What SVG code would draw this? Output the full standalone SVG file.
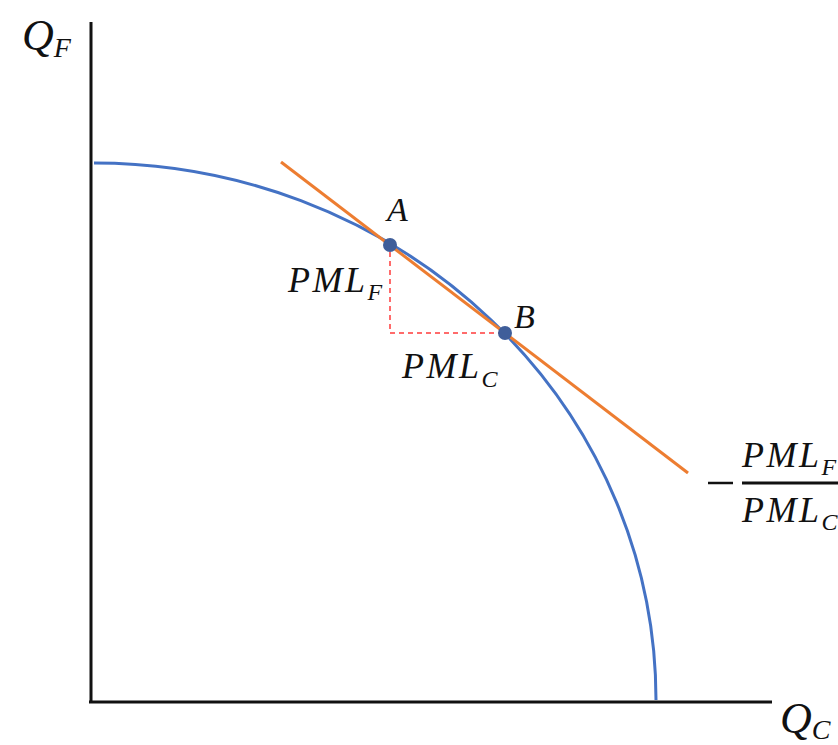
<svg xmlns="http://www.w3.org/2000/svg" width="838" height="745" viewBox="0 0 838 745">
<style>
.m{font-family:"Liberation Serif","DejaVu Serif",serif;font-style:italic;fill:#111}
.big{font-size:44px}
.lab{font-size:36px;letter-spacing:2.5px}
.sub{font-size:24px}
.axis{stroke:#111;stroke-width:3;fill:none}
</style>
<rect width="838" height="745" fill="#fff"/>
<g id="axes">
<line class="axis" x1="91" y1="22" x2="91" y2="702"/>
<line class="axis" x1="89" y1="702" x2="772" y2="702"/>
</g>
<g id="curve">
<path d="M94,163 A562,537 0 0 1 656,700" fill="none" stroke="#4472C4" stroke-width="3"/>
</g>
<g id="connectors">
<line x1="281" y1="162" x2="688" y2="473" stroke="#ED7D31" stroke-width="3"/>
<path d="M390,252 V333 H500" fill="none" stroke="#FF3B3B" stroke-width="1.5" stroke-dasharray="5,4"/>
</g>
<g id="pointA"><circle cx="390" cy="245" r="7" fill="#3F5E9A"/><text class="m" x="387" y="221" font-size="34">A</text></g>
<g id="pointB"><circle cx="505" cy="333" r="7" fill="#3F5E9A"/><text class="m" x="514" y="328" font-size="34">B</text></g>
<g id="labelPMLF"><text class="m lab" x="288" y="292">PML<tspan class="sub" dy="8" letter-spacing="0">F</tspan></text></g>
<g id="labelPMLC"><text class="m lab" x="402" y="378">PML<tspan class="sub" dy="9" letter-spacing="0">C</tspan></text></g>
<g id="slope">
<line x1="708" y1="483" x2="733" y2="483" stroke="#111" stroke-width="2.5"/>
<line x1="742" y1="483" x2="838" y2="483" stroke="#111" stroke-width="3"/>
<text class="m lab" x="742" y="467">PML<tspan class="sub" dy="8" letter-spacing="0">F</tspan></text>
<text class="m lab" x="742" y="522">PML<tspan class="sub" dy="8" letter-spacing="0">C</tspan></text>
</g>
<g id="labelQF"><text class="m big" x="22" y="50">Q<tspan font-size="28" dy="7">F</tspan></text></g>
<g id="labelQC"><text class="m big" x="780" y="733">Q<tspan font-size="28" dy="6">C</tspan></text></g>
</svg>
